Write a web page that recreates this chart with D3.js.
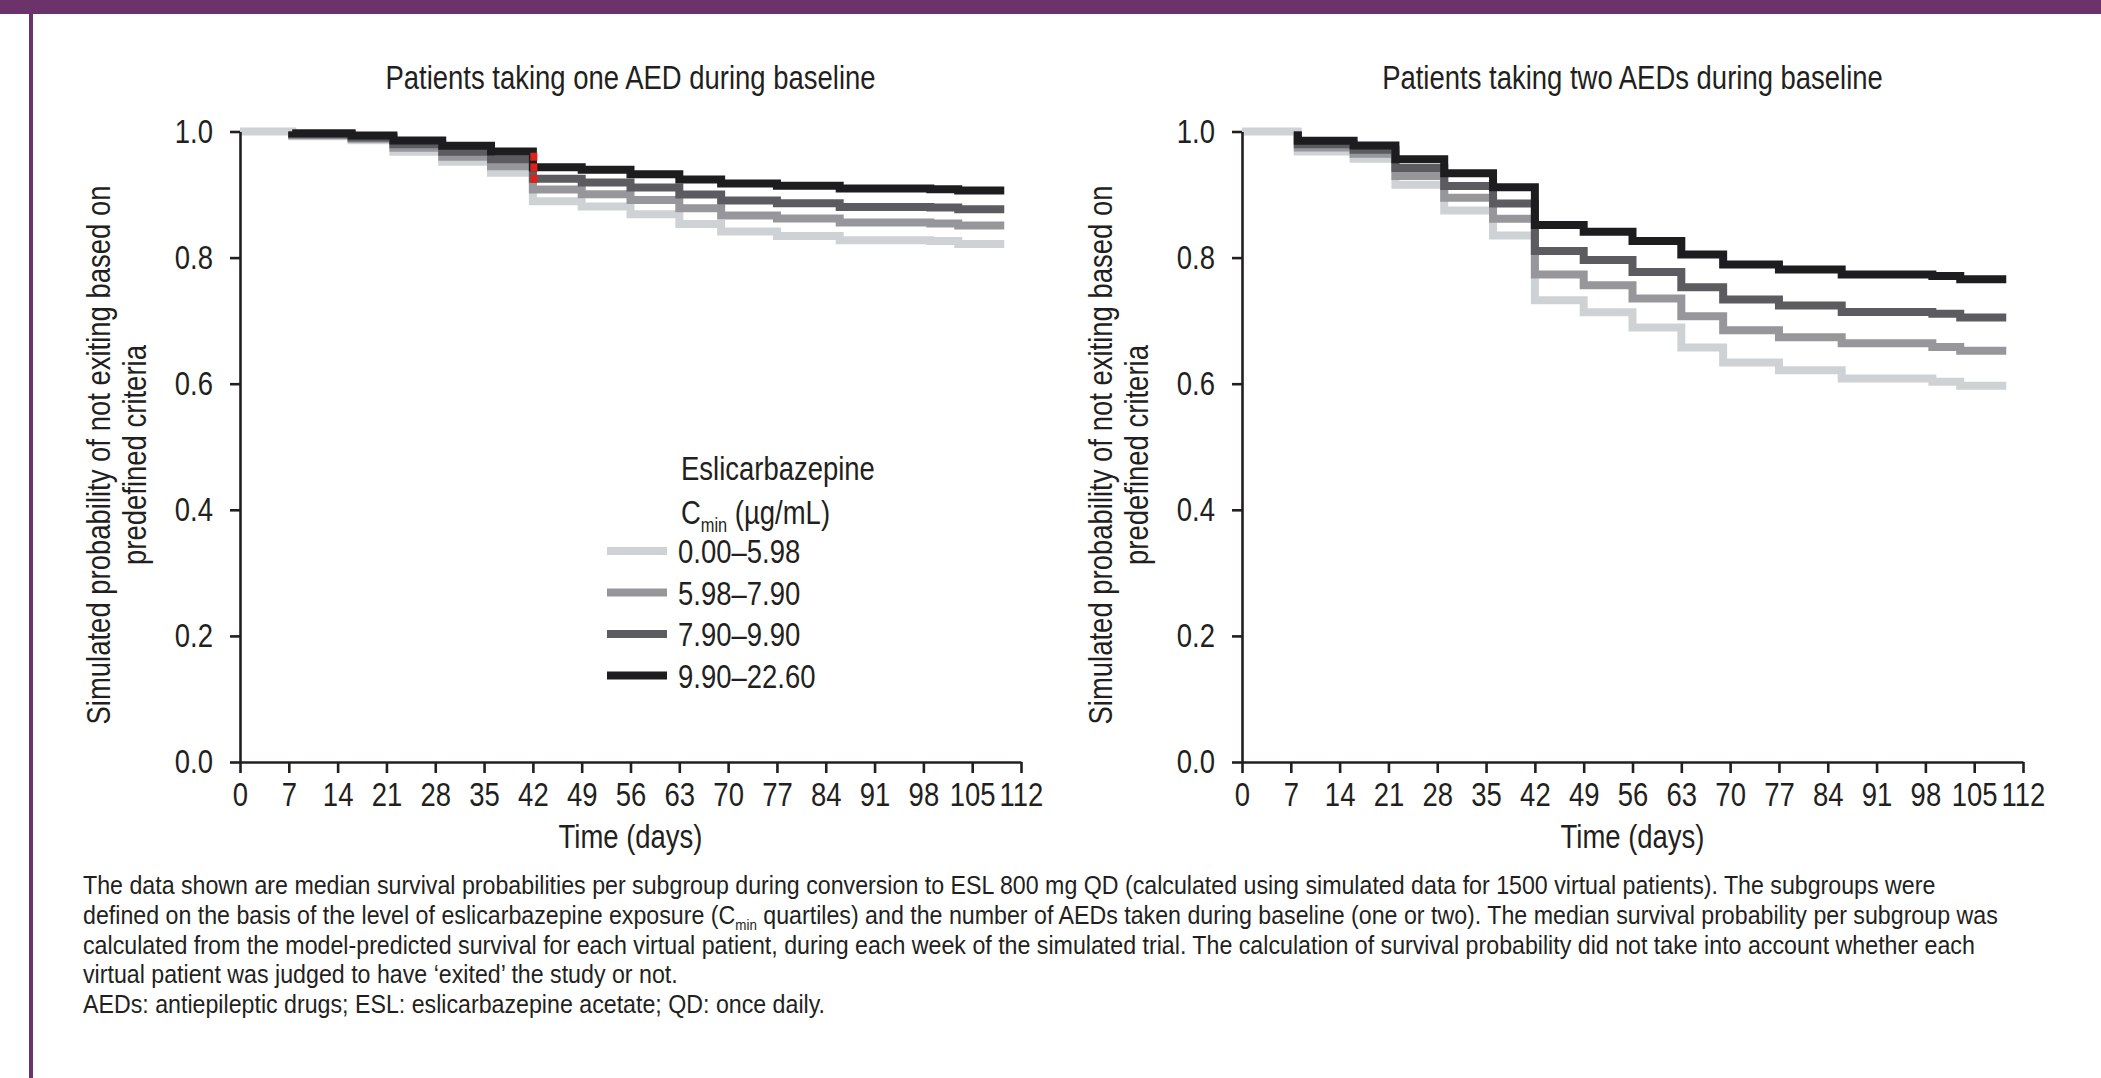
<!DOCTYPE html>
<html><head><meta charset="utf-8">
<script src="https://cdn.jsdelivr.net/npm/d3@7/dist/d3.min.js"></script>
<style>
html,body{margin:0;padding:0;background:#fff;}
svg{display:block;}
</style></head><body>
<svg id="chart" width="2101" height="1078"></svg>
<script>
// ---------- data ----------
const seriesLabels = ["0.00–5.98", "5.98–7.90", "7.90–9.90", "9.90–22.60"];
const seriesColors = ["#cfd2d5", "#97969a", "#5c5b60", "#1d1d20"];
const xTickValues = [0, 7, 14, 21, 28, 35, 42, 49, 56, 63, 70, 77, 84, 91, 98, 105, 112];
const yTickValues = [0, 0.2, 0.4, 0.6, 0.8, 1.0];

// Panel 1: one AED during baseline
const oneAedDays = [0, 7.5, 16, 22, 29, 36, 42, 49, 56, 63, 69, 77, 86, 99, 103];
const oneAedEnd = 109.6;
const oneAedQ1 = [1, 0.9926, 0.9863, 0.9680, 0.9522, 0.9344, 0.8894, 0.8810, 0.8688, 0.8534, 0.8413, 0.8344, 0.8275, 0.8264, 0.8217];
const oneAedQ2 = [1, 0.9942, 0.9884, 0.9744, 0.9601, 0.9450, 0.9080, 0.9005, 0.8915, 0.8783, 0.8667, 0.8619, 0.8555, 0.8540, 0.8508];
const oneAedQ3 = [1, 0.9958, 0.9905, 0.9797, 0.9680, 0.9561, 0.9249, 0.9191, 0.9111, 0.9000, 0.8905, 0.8862, 0.8804, 0.8794, 0.8767];
const oneAedQ4 = [1, 0.9974, 0.9937, 0.9858, 0.9773, 0.9683, 0.9434, 0.9392, 0.9323, 0.9238, 0.9175, 0.9138, 0.9095, 0.9085, 0.9064];
const oneAedMarkDay = 42;
const oneAedMarkValues = [0.960, 0.943, 0.925];

// Panel 2: two AEDs during baseline
const twoAedDays = [0, 8, 16, 22, 29, 36, 42, 49, 56, 63, 69, 77, 86, 99, 103];
const twoAedEnd = 109.6;
const twoAedQ1 = [1, 0.9683, 0.9567, 0.9156, 0.8749, 0.8352, 0.7325, 0.7134, 0.6893, 0.6576, 0.6337, 0.6213, 0.6083, 0.6030, 0.5967];
const twoAedQ2 = [1, 0.9747, 0.9646, 0.9294, 0.8950, 0.8616, 0.7732, 0.7563, 0.7351, 0.7071, 0.6848, 0.6737, 0.6642, 0.6581, 0.6523];
const twoAedQ3 = [1, 0.9799, 0.9709, 0.9421, 0.9135, 0.8857, 0.8103, 0.7960, 0.7772, 0.7529, 0.7335, 0.7240, 0.7139, 0.7108, 0.7049];
const twoAedQ4 = [1, 0.9852, 0.9778, 0.9559, 0.9336, 0.9117, 0.8516, 0.8410, 0.8262, 0.8050, 0.7891, 0.7812, 0.7732, 0.7709, 0.7656];

const panelTitles = ["Patients taking one AED during baseline", "Patients taking two AEDs during baseline"];
const yLabelLines = ["Simulated probability of not exiting based on", "predefined criteria"];
const xLabel = "Time (days)";
const legendTitle = "Eslicarbazepine";
const captionLines = [
  [["The data shown are median survival probabilities per subgroup during conversion to ESL 800 mg QD (calculated using simulated data for 1500 virtual patients). The subgroups were", false]],
  [["defined on the basis of the level of eslicarbazepine exposure (C", false], ["min", true], [" quartiles) and the number of AEDs taken during baseline (one or two). The median survival probability per subgroup was", false]],
  [["calculated from the model-predicted survival for each virtual patient, during each week of the simulated trial. The calculation of survival probability did not take into account whether each", false]],
  [["virtual patient was judged to have ‘exited’ the study or not.", false]],
  [["AEDs: antiepileptic drugs; ESL: eslicarbazepine acetate; QD: once daily.", false]]
];

// ---------- font ----------
function hasFont(name) {
  const c = document.createElement("canvas").getContext("2d");
  const s = "abcdefghijklmnopqrstuvwxyz0123456789";
  c.font = "40px monospace"; const w0 = c.measureText(s).width;
  c.font = `40px '${name}', monospace`; return c.measureText(s).width !== w0;
}
const narrow = hasFont("Liberation Sans Narrow");
const FONT = narrow ? "'Liberation Sans Narrow', 'Arial Narrow', sans-serif" : "'Liberation Sans', Arial, sans-serif";
const SX = narrow ? 1 : 0.82;   // horizontal squeeze to imitate a condensed face
const INK = "#231f20";

function txt(parent, x, y, size, anchor, rot, sx) {
  return parent.append("text")
    .attr("transform", `translate(${x},${y})${rot ? ` rotate(${rot})` : ""} scale(${sx || SX},1)`)
    .attr("text-anchor", anchor || "start").attr("font-family", FONT)
    .attr("font-size", size).attr("fill", INK);
}

// ---------- layout ----------
const svg = d3.select("#chart");
svg.append("rect").attr("x", 0).attr("y", 0).attr("width", 2101).attr("height", 1078).attr("fill", "#fff");
svg.append("rect").attr("x", 0).attr("y", 0).attr("width", 2101).attr("height", 14).attr("fill", "#6b3369");
svg.append("rect").attr("x", 29).attr("y", 0).attr("width", 4).attr("height", 1078).attr("fill", "#6b3369");

const panels = [
  { title: panelTitles[0], left: 240, days: oneAedDays, end: oneAedEnd, series: [oneAedQ1, oneAedQ2, oneAedQ3, oneAedQ4], marks: oneAedMarkValues, markDay: oneAedMarkDay, legend: true },
  { title: panelTitles[1], left: 1242, days: twoAedDays, end: twoAedEnd, series: [twoAedQ1, twoAedQ2, twoAedQ3, twoAedQ4], marks: [], markDay: null, legend: false }
];
const plotW = 781, yTop = 131.5, yBot = 762;
const FS = 33.5;

panels.forEach(p => {
  const g = svg.append("g");
  const x = d3.scaleLinear().domain([0, 112]).range([p.left, p.left + plotW]);
  const y = d3.scaleLinear().domain([0, 1]).range([yBot, yTop]);
  const cx = p.left + plotW / 2;

  // title
  txt(g, cx, 89, FS, "middle").text(p.title);

  // step lines (light first, darkest on top)
  const line = d3.line().x(d => x(d[0])).y(d => y(d[1])).curve(d3.curveStepAfter);
  p.series.forEach((vals, i) => {
    const pts = [];
    const start = i === 0 ? 0 : 1;
    if (start === 1) pts.push([p.days[1], vals[0]]);
    for (let k = start; k < vals.length; k++) pts.push([p.days[k], vals[k]]);
    pts.push([p.end, vals[vals.length - 1]]);
    g.append("path").attr("d", line(pts)).attr("fill", "none")
      .attr("stroke", seriesColors[i]).attr("stroke-width", 8).attr("stroke-linejoin", "miter");
  });

  // red marks
  p.marks.forEach(v => {
    g.append("rect").attr("x", x(p.markDay) - 2.5).attr("y", y(v) - 4).attr("width", 7).attr("height", 8).attr("fill", "#e0201b");
  });

  // axes
  const ax = g.append("g").attr("transform", `translate(0,${yBot})`)
    .call(d3.axisBottom(x).tickValues(xTickValues).tickSize(11).tickSizeOuter(0).tickPadding(9).tickFormat(d3.format("d")));
  const ay = g.append("g").attr("transform", `translate(${p.left},0)`)
    .call(d3.axisLeft(y).tickValues(yTickValues).tickSize(10).tickSizeOuter(0).tickPadding(27 / SX - 10).tickFormat(d3.format(".1f")));
  [ax, ay].forEach(a => {
    a.attr("font-family", FONT).attr("font-size", FS);
    a.selectAll("path.domain").attr("stroke", INK).attr("stroke-width", 2.6);
    a.selectAll(".tick line").attr("stroke", INK).attr("stroke-width", 2.6);
    a.selectAll(".tick text").attr("fill", INK).attr("transform", `scale(${SX},1)`);
  });

  // axis labels
  txt(g, cx, 848, FS, "middle").text(xLabel);
  yLabelLines.forEach((t, i) => {
    txt(g, p.left - 142 + i * 36, 455, FS, "middle", -90).attr("dy", "0.36em").text(t);
  });

  // legend
  if (p.legend) {
    const lx = p.left + 441;
    txt(g, lx, 480, FS).text(legendTitle);
    const ct = txt(g, lx, 524, FS);
    ct.append("tspan").text("C");
    ct.append("tspan").attr("font-size", 20).attr("dy", 8).text("min");
    ct.append("tspan").attr("dy", -8).text(" (µg/mL)");
    seriesLabels.forEach((lab, i) => {
      const cy = 551 + i * 41.5;
      g.append("line").attr("x1", lx - 74).attr("x2", lx - 14).attr("y1", cy).attr("y2", cy)
        .attr("stroke", seriesColors[i]).attr("stroke-width", 8);
      txt(g, lx - 3, cy + 12, FS).text(lab);
    });
  }
});

// caption
const capSize = 26, capSX = SX * 28.3 / 26;
captionLines.forEach((segs, i) => {
  const t = txt(svg, 83, 894 + i * 29.8, capSize, "start", 0, capSX);
  segs.forEach(([s, sub], j) => {
    if (sub) t.append("tspan").attr("font-size", 15).attr("dy", 6).text(s);
    else t.append("tspan").attr("dy", j > 0 ? -6 : 0).text(s);
  });
});
</script>
</body></html>
